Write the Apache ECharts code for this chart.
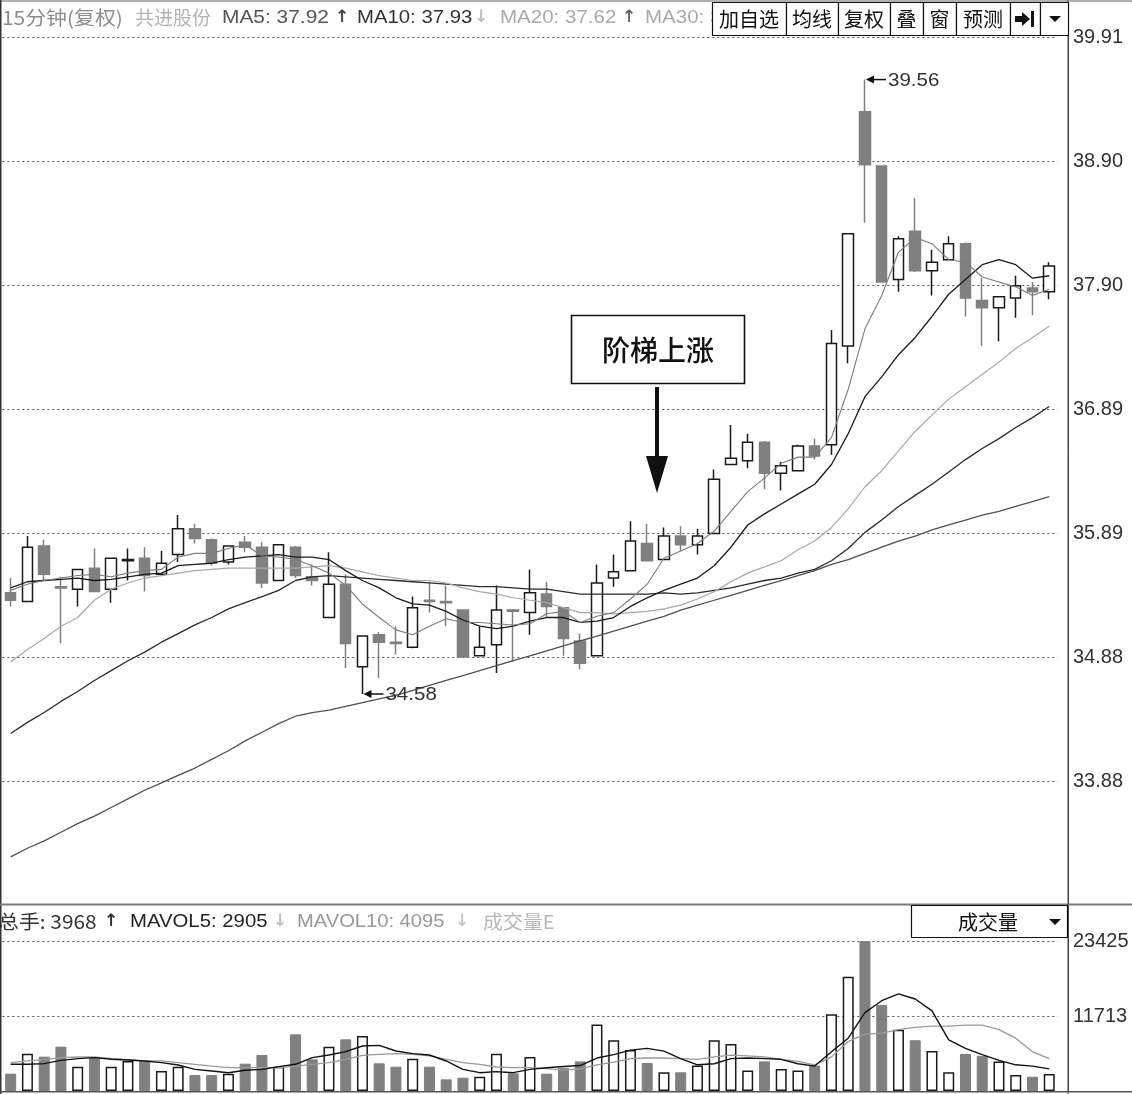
<!DOCTYPE html>
<html><head><meta charset="utf-8">
<script src="https://cdn.jsdelivr.net/npm/echarts@6/dist/echarts.min.js"></script>
<style>html,body{margin:0;padding:0;background:#fff;overflow:hidden}#c{width:1132px;height:1094px}</style>
</head><body><div id="c"></div><script>
// ---- data ----
const categories = Array.from({length: 63}, (_, i) => String(i + 1));
// [open, close, low, high]
const ohlc = [
 [35.40,35.34,35.29,35.52],[35.33,35.77,35.33,35.86],[35.78,35.55,35.50,35.83],[35.45,35.44,34.99,35.53],
 [35.43,35.59,35.29,35.59],[35.60,35.41,35.41,35.76],[35.43,35.68,35.32,35.68],[35.66,35.67,35.50,35.76],
 [35.68,35.54,35.41,35.77],[35.55,35.64,35.55,35.74],[35.71,35.92,35.65,36.03],[35.92,35.84,35.80,35.96],
 [35.83,35.64,35.62,35.84],[35.65,35.78,35.63,35.78],[35.81,35.77,35.73,35.86],[35.77,35.48,35.44,35.81],
 [35.50,35.79,35.50,35.79],[35.77,35.54,35.52,35.78],[35.53,35.50,35.46,35.63],[35.20,35.47,35.20,35.73],
 [35.47,34.99,34.79,35.55],[34.80,35.05,34.58,35.05],[35.06,35.00,34.71,35.08],[35.00,34.99,34.90,35.13],
 [34.96,35.28,34.95,35.37],[35.34,35.33,35.24,35.49],[35.33,35.32,35.13,35.46],[35.26,34.88,34.88,35.26],
 [34.89,34.96,34.89,35.13],[34.98,35.26,34.75,35.46],[35.26,35.25,34.84,35.27],[35.24,35.40,35.06,35.59],
 [35.39,35.29,35.20,35.49],[35.28,35.03,34.89,35.28],[35.01,34.83,34.78,35.07],[34.89,35.48,34.89,35.63],
 [35.52,35.57,35.45,35.71],[35.58,35.82,35.58,35.98],[35.80,35.66,35.66,35.96],[35.67,35.86,35.67,35.93],
 [35.86,35.79,35.74,35.94],[35.79,35.86,35.71,35.92],[35.88,36.32,35.88,36.40],[36.44,36.49,36.44,36.76],
 [36.47,36.62,36.41,36.69],[36.62,36.37,36.24,36.63],[36.37,36.43,36.23,36.46],[36.39,36.59,36.39,36.60],
 [36.59,36.51,36.48,36.65],[36.60,37.42,36.52,37.53],[37.40,38.31,37.26,38.31],[39.30,38.87,38.40,39.56],
 [38.86,37.92,37.92,38.86],[37.94,38.27,37.84,38.29],[38.33,38.01,38.00,38.60],[38.01,38.08,37.81,38.18],
 [38.10,38.23,38.10,38.29],[38.23,37.79,37.64,38.24],[37.77,37.71,37.40,37.95],[37.71,37.80,37.44,37.80],
 [37.79,37.89,37.63,37.97],[37.87,37.84,37.65,37.92],[37.84,38.05,37.78,38.08]
];
const ma5 = [35.42,35.47,35.50,35.52,35.54,35.55,35.53,35.56,35.58,35.59,35.69,35.72,35.72,35.76,35.79,35.70,35.69,35.67,35.62,35.56,35.46,35.31,35.20,35.10,35.06,35.13,35.19,35.16,35.16,35.15,35.14,35.15,35.23,35.25,35.16,35.21,35.24,35.35,35.47,35.68,35.74,35.80,35.90,36.06,36.22,36.33,36.45,36.50,36.50,36.66,37.05,37.54,37.81,38.16,38.28,38.23,38.10,38.08,37.96,37.92,37.88,37.81,37.86];
const ma10 = [35.44,35.49,35.50,35.51,35.52,35.50,35.51,35.53,35.55,35.56,35.62,35.63,35.64,35.67,35.69,35.70,35.71,35.69,35.69,35.67,35.58,35.50,35.44,35.36,35.31,35.30,35.25,35.18,35.13,35.11,35.13,35.17,35.20,35.20,35.16,35.17,35.20,35.29,35.36,35.42,35.47,35.52,35.62,35.77,35.95,36.04,36.12,36.20,36.28,36.44,36.69,36.99,37.15,37.33,37.47,37.64,37.82,37.94,38.06,38.10,38.06,37.95,37.97];
const ma20 = [34.84,34.94,35.03,35.13,35.20,35.34,35.43,35.48,35.52,35.54,35.56,35.58,35.59,35.60,35.60,35.60,35.60,35.60,35.61,35.62,35.60,35.57,35.54,35.52,35.50,35.50,35.48,35.44,35.41,35.39,35.36,35.34,35.32,35.28,35.24,35.24,35.23,35.24,35.25,35.27,35.30,35.35,35.41,35.49,35.56,35.61,35.66,35.75,35.82,35.93,36.08,36.26,36.39,36.55,36.71,36.84,36.97,37.07,37.17,37.27,37.38,37.47,37.56];
const ma30 = [34.26,34.35,34.43,34.52,34.60,34.69,34.77,34.85,34.92,35.00,35.07,35.14,35.20,35.27,35.32,35.37,35.42,35.50,35.53,35.54,35.53,35.52,35.51,35.50,35.49,35.48,35.47,35.46,35.45,35.45,35.44,35.43,35.43,35.41,35.39,35.39,35.39,35.39,35.39,35.40,35.39,35.40,35.42,35.44,35.47,35.50,35.52,35.56,35.59,35.66,35.76,35.89,35.99,36.10,36.19,36.28,36.38,36.48,36.57,36.65,36.74,36.82,36.91];
const ma60 = [33.26,33.33,33.39,33.46,33.53,33.59,33.66,33.73,33.80,33.86,33.92,33.98,34.05,34.12,34.20,34.27,34.34,34.40,34.43,34.45,34.48,34.51,34.54,34.57,34.61,34.65,34.69,34.73,34.77,34.81,34.85,34.89,34.93,34.97,35.01,35.05,35.09,35.13,35.17,35.21,35.26,35.30,35.34,35.38,35.42,35.46,35.50,35.54,35.58,35.63,35.67,35.72,35.77,35.82,35.86,35.91,35.95,35.99,36.03,36.06,36.10,36.14,36.18];
const volumes = [2707,5830,5362,6925,3800,5310,3800,4686,4686,3124,3800,2500,2500,2707,4270,5623,3800,8850,4946,6925,8070,8590,4320,3800,5050,3800,1820,2080,2240,5830,2760,5310,2707,3610,4620,10390,7930,6400,4370,2920,2920,3980,7930,7340,3190,4620,3450,3190,3980,11980,17840,23425,13460,9580,7930,6230,2920,5800,5480,4620,2500,2230,2660];
const mavol5 = [4170,4170,4270,4790,5050,5210,4950,4840,4690,4430,4060,3380,3120,2860,3230,3380,3800,4170,5210,5620,6140,7030,7130,6250,5830,5620,4690,3380,2860,3020,2860,3380,3640,3830,3980,5150,5690,6390,6650,6230,5060,4090,4250,5060,5150,5060,4950,4250,3890,6120,8250,12250,14100,15170,14370,12510,7980,6650,5690,4780,4090,3890,3450];
const mavol10 = [4430,4690,4900,5210,5310,5310,5100,4900,4690,4690,4430,4170,3900,3640,3640,3640,3640,3900,4170,4430,4950,5570,5730,5830,5730,5470,4950,4430,4170,3750,3640,3640,3500,3300,3450,4090,4510,5060,5150,5150,5060,4950,5330,5590,5480,5330,4950,4620,4090,5330,7720,8890,9040,9580,9950,10120,10120,10280,10280,9580,8250,6120,5060];
const priceTickLabels = ['33.88','34.88','35.89','36.89','37.90','38.90','39.91'];
const volTickLabels = ['11713','23425'];
const highMark = {index: 51, value: 39.56, text: '39.56'};
const lowMark = {index: 21, value: 34.58, text: '34.58'};

// ---- chart ----
const FONT = '"Liberation Sans", "Noto Sans CJK SC", sans-serif';
const CJK = '"Noto Sans CJK SC", "Liberation Sans", sans-serif';
const ARROWF = '"DejaVu Sans", "Liberation Sans", sans-serif';
const UP_BORDER = '#1a1a1a', DOWN = '#808080';
const chart = echarts.init(document.getElementById('c'));

function lineSeries(name, data, color, w, xi, yi) {
  return {name, type: 'line', data, xAxisIndex: xi, yAxisIndex: yi, symbol: 'none', silent: true,
    lineStyle: {color, width: w}, z: 5};
}
const volData = volumes.map((v, i) => {
  const up = ohlc[i][1] >= ohlc[i][0];
  return {value: v, itemStyle: up ? {color: '#fff', borderColor: UP_BORDER, borderWidth: 1.5} : {color: DOWN, borderColor: DOWN, borderWidth: 1}};
});

chart.setOption({
  animation: false,
  backgroundColor: '#fff',
  grid: [
    {left: 2.3, right: 74.4, top: 0, height: 905},
    {left: 2.3, right: 74.4, top: 906, height: 185}
  ],
  xAxis: [
    {type: 'category', data: categories, gridIndex: 0, show: false},
    {type: 'category', data: categories, gridIndex: 1, show: false}
  ],
  yAxis: [
    {gridIndex: 0, position: 'right', offset: 10.4, min: 32.87, max: 40.205, interval: 1.005,
      axisLine: {show: true, lineStyle: {color: '#444', width: 1}}, axisTick: {show: false},
      axisLabel: {margin: 5, color: '#333', fontSize: 20, fontFamily: FONT, showMinLabel: false, showMaxLabel: false,
        formatter: v => { const k = (v - 33.875) / 1.005; const r = Math.round(k); return (Math.abs(k - r) < 0.05 && priceTickLabels[r] !== undefined) ? priceTickLabels[r] : ''; }},
      splitLine: {show: true, showMinLine: false, showMaxLine: false, lineStyle: {color: '#555', type: [2, 3], width: 1}}},
    {gridIndex: 1, position: 'right', offset: 10.4, min: 0, max: 28891, interval: 11712.5,
      axisLine: {show: true, lineStyle: {color: '#444', width: 1}}, axisTick: {show: false},
      axisLabel: {margin: 5, color: '#333', fontSize: 20, fontFamily: FONT, showMinLabel: false, showMaxLabel: false,
        formatter: v => { const k = v / 11712.5; const r = Math.round(k); return (Math.abs(k - r) < 0.05 && volTickLabels[r - 1] !== undefined) ? volTickLabels[r - 1] : ''; }},
      splitLine: {show: true, showMinLine: false, showMaxLine: false, lineStyle: {color: '#555', type: [2, 3], width: 1}}}
  ],
  series: [
    {name: 'K', type: 'candlestick', data: ohlc, xAxisIndex: 0, yAxisIndex: 0, barWidth: 11, z: 3,
      itemStyle: {color: '#fff', color0: DOWN, borderColor: UP_BORDER, borderColor0: DOWN, borderWidth: 1.5}},
    lineSeries('MA60', ma60, '#505050', 1.3, 0, 0),
    lineSeries('MA30', ma30, '#2a2a2a', 1.3, 0, 0),
    lineSeries('MA20', ma20, '#a8a8a8', 1.2, 0, 0),
    lineSeries('MA10', ma10, '#1a1a1a', 1.3, 0, 0),
    lineSeries('MA5', ma5, '#7c7c7c', 1.1, 0, 0),
    {name: 'VOL', type: 'bar', data: volData, xAxisIndex: 1, yAxisIndex: 1, barWidth: 11, z: 3},
    lineSeries('MAVOL10', mavol10, '#9a9a9a', 1.3, 1, 1),
    lineSeries('MAVOL5', mavol5, '#111', 1.4, 1, 1)
  ]
});

// ---- decorations / annotations ----
function txt(x, y, text, color, size, family, sx, weight) {
  return {type: 'text', x, y, z: 20, silent: true, scaleX: sx || 1,
    style: {text, fill: color, font: (weight || 'normal') + ' ' + size + 'px ' + family, verticalAlign: 'middle', align: 'left'}};
}
function ctxt(x, y, text, size, weight) {
  return {type: 'text', x, y, z: 26, silent: true,
    style: {text, fill: '#111', font: (weight || 'normal') + ' ' + size + 'px ' + CJK, verticalAlign: 'middle', align: 'center'}};
}
function markArrow(m) {
  const p = chart.convertToPixel({gridIndex: 0}, [m.index, m.value]);
  const x = p[0], y = p[1];
  return [
    {type: 'polygon', z: 20, shape: {points: [[x + 1, y], [x + 9, y - 4], [x + 9, y + 4]]}, style: {fill: '#111'}},
    {type: 'line', z: 20, shape: {x1: x + 6, y1: y, x2: x + 21, y2: y}, style: {stroke: '#111', lineWidth: 1.5}},
    txt(x + 23, y + 1, m.text, '#333', 19, FONT, 1.08)
  ];
}
const g = [];
g.push({type: 'rect', z: 15, shape: {x: 0, y: 0, width: 1132, height: 2}, style: {fill: '#b0b0b0'}});
g.push({type: 'rect', z: 15, shape: {x: 0, y: 0, width: 1.5, height: 1094}, style: {fill: '#333'}});
g.push({type: 'rect', z: 15, shape: {x: 0, y: 903.5, width: 1132, height: 2}, style: {fill: '#7a7a7a'}});
g.push({type: 'rect', z: 15, shape: {x: 0, y: 1091, width: 1132, height: 1.5}, style: {fill: '#555'}});
g.push({type: 'rect', z: 15, shape: {x: 1067.5, y: 0, width: 1, height: 1094}, style: {fill: '#444'}});
// top header
g.push(txt(2, 18, '15分钟(复权)', '#8c8c8c', 19, CJK, 1.1));
g.push(txt(135, 18, '共进股份', '#b4b4b4', 19, CJK));
g.push(txt(222, 18, 'MA5: 37.92', '#555', 19, FONT, 1.1));
g.push(txt(335, 18, '↑', '#444', 17, ARROWF, 1, 'bold'));
g.push(txt(357, 18, 'MA10: 37.93', '#333', 19, FONT, 1.07));
g.push(txt(474, 18, '↓', '#c0c0c0', 17, ARROWF, 1, 'bold'));
g.push(txt(500, 18, 'MA20: 37.62', '#aaa', 19, FONT, 1.08));
g.push(txt(622, 18, '↑', '#666', 17, ARROWF, 1, 'bold'));
g.push(txt(645, 18, 'MA30: 36.91', '#aaa', 19, FONT, 1.08));
// buttons
const btnEdges = [712, 786, 838, 890, 923, 956, 1010, 1040, 1068];
const btnTexts = ['加自选', '均线', '复权', '叠', '窗', '预测', '', ''];
for (let i = 0; i < btnTexts.length; i++) {
  const x0 = btnEdges[i], x1 = btnEdges[i + 1];
  g.push({type: 'rect', z: 25, shape: {x: x0 + 0.5, y: 2.5, width: x1 - x0, height: 33}, style: {fill: '#fff', stroke: '#111', lineWidth: 1.2}});
  if (btnTexts[i]) g.push(ctxt((x0 + x1) / 2, 19, btnTexts[i], 20));
}
g.push({type: 'polygon', z: 26, shape: {points: [[1015, 16], [1022, 16], [1022, 12], [1030, 19], [1022, 26], [1022, 22], [1015, 22]]}, style: {fill: '#111'}});
g.push({type: 'rect', z: 26, shape: {x: 1031, y: 11, width: 3, height: 16}, style: {fill: '#111'}});
g.push({type: 'polygon', z: 26, shape: {points: [[1049, 16], [1061, 16], [1055, 22]]}, style: {fill: '#111'}});
// volume header
g.push(txt(-2, 922, '总手: 3968', '#333', 19, CJK, 1.1));
g.push(txt(104, 922, '↑', '#333', 17, ARROWF, 1, 'bold'));
g.push(txt(130, 922, 'MAVOL5: 2905', '#222', 19, FONT, 1.07));
g.push(txt(273, 922, '↓', '#c0c0c0', 17, ARROWF, 1, 'bold'));
g.push(txt(297, 922, 'MAVOL10: 4095', '#999', 19, FONT, 1.06));
g.push(txt(455, 922, '↓', '#c8c8c8', 17, ARROWF, 1, 'bold'));
g.push(txt(483, 922, '成交量E', '#b8b8b8', 19, CJK, 1.05));
g.push({type: 'rect', z: 25, shape: {x: 911.5, y: 905.5, width: 156, height: 32}, style: {fill: '#fff', stroke: '#111', lineWidth: 1.2}});
g.push(ctxt(988, 922, '成交量', 20));
g.push({type: 'polygon', z: 26, shape: {points: [[1049, 919], [1061, 919], [1055, 925]]}, style: {fill: '#111'}});
// callout box + arrow
g.push({type: 'rect', z: 20, shape: {x: 571.5, y: 315.5, width: 173, height: 68}, style: {fill: '#fff', stroke: '#111', lineWidth: 1.6}});
g.push(Object.assign(ctxt(658, 350, '阶梯上涨', 28, '500'), {z: 21}));
g.push({type: 'rect', z: 20, shape: {x: 655, y: 387, width: 4, height: 72}, style: {fill: '#111'}});
g.push({type: 'polygon', z: 20, shape: {points: [[646, 456], [668, 456], [657, 493]]}, style: {fill: '#111'}});
// high / low marks
markArrow(highMark).forEach(e => g.push(e));
markArrow(lowMark).forEach(e => g.push(e));
chart.setOption({graphic: g});
</script></body></html>
